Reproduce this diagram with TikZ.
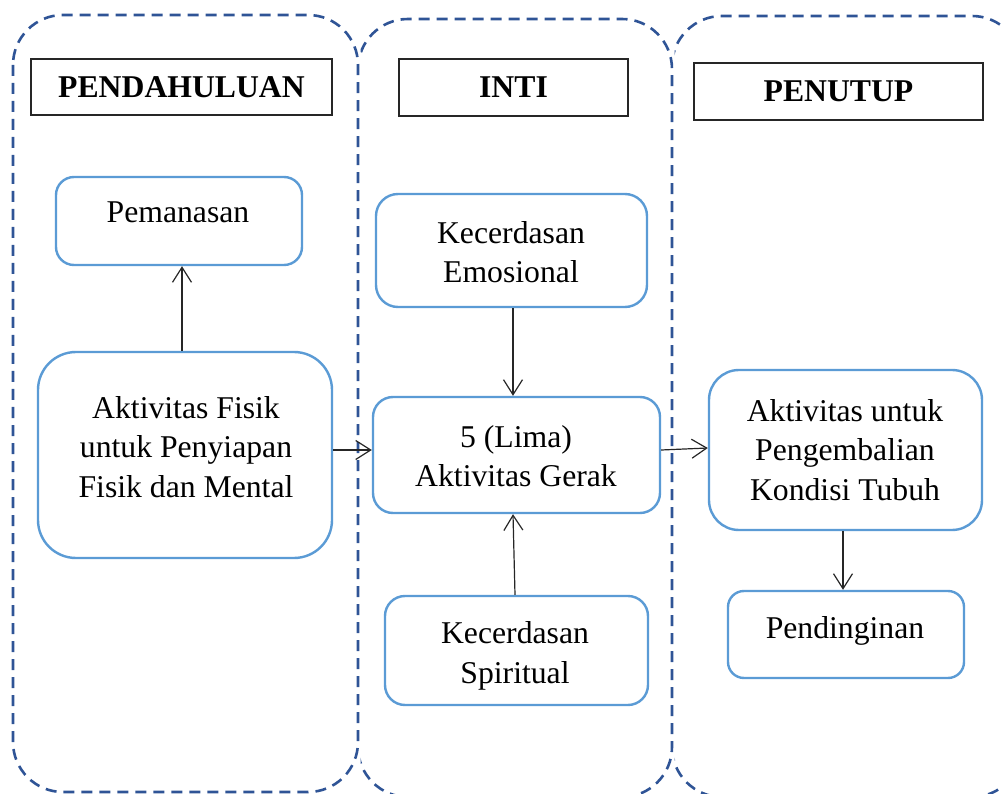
\documentclass[tikz,border=0pt]{standalone}
\usepackage{fontspec}
\setmainfont{Liberation Serif}
\usetikzlibrary{arrows.meta}
\definecolor{dashblue}{RGB}{47,84,150}
\definecolor{boxblue}{RGB}{91,155,213}
\begin{document}
\begin{tikzpicture}[x=1pt,y=-1pt,
  phase/.style={draw=dashblue, line width=2.6pt, dash pattern=on 11pt off 7pt, rounded corners=50pt},
  header/.style={draw=black!85, line width=1.3pt, inner sep=0pt, font=\fontsize{31.7}{39.5}\selectfont\bfseries},
  bluebox/.style={draw=boxblue, line width=2.4pt, inner sep=0pt},
  txt/.style={font=\fontsize{31.7}{39.5}\selectfont, align=center, inner sep=0pt},
  conn/.style={draw=black!85, line width=1.2pt, -{Straight Barb[length=15pt,width=19pt,line width=1.2pt]}}]
\useasboundingbox (0,0) rectangle (1002,794);
% phases
\draw[phase] (13,15) rectangle (358,792);
\begin{scope}
  \clip (360.5,0) rectangle (700,810);
  \draw[phase] (358,19) rectangle (672,797);
\end{scope}
\begin{scope}
  \clip (674.5,0) rectangle (1040,810);
  \draw[phase] (672,16) rectangle (1022,797);
\end{scope}
% headers
\node[header, minimum width=301pt, minimum height=56pt] (h1) at (181.5,87) {PENDAHULUAN};
\node[header, minimum width=229pt, minimum height=57pt] (h2) at (513.5,87.5) {INTI};
\node[header, minimum width=289pt, minimum height=57pt] (h3) at (838.5,91.5) {PENUTUP};
% boxes
\node[bluebox, rounded corners=18pt, minimum width=246pt, minimum height=88pt] (pem) at (179,221) {};
\node[bluebox, rounded corners=38pt, minimum width=294pt, minimum height=206pt] (fis) at (185,455) {};
\node[bluebox, rounded corners=22pt, minimum width=271pt, minimum height=113pt] (emo) at (511.5,250.5) {};
\node[bluebox, rounded corners=20pt, minimum width=287pt, minimum height=116pt] (ger) at (516.5,455) {};
\node[bluebox, rounded corners=20pt, minimum width=263pt, minimum height=109pt] (spi) at (516.5,650.5) {};
\node[bluebox, rounded corners=30pt, minimum width=273pt, minimum height=160pt] (peng) at (845.5,450) {};
\node[bluebox, rounded corners=16pt, minimum width=236pt, minimum height=87pt] (pend) at (846,634.5) {};
% texts
\node[txt] (pemT) at (178,212) {Pemanasan};
\node[txt] (fisT) at (186,447) {Aktivitas Fisik\\untuk Penyiapan\\Fisik dan Mental};
\node[txt] (emoT) at (511,252) {Kecerdasan\\Emosional};
\node[txt] (gerT) at (516,456) {5 (Lima)\\Aktivitas Gerak};
\node[txt] (spiT) at (515,656) {Kecerdasan\\Spiritual};
\node[txt] (pengT) at (845,450) {Aktivitas untuk\\Pengembalian\\Kondisi Tubuh};
\node[txt] (pendT) at (845,631) {Pendinginan};
% connectors
\draw[conn] ([xshift=-3pt]fis.north) -- ([xshift=3pt]pem.south);
\draw[conn] ([xshift=1.5pt]emo.south) -- ([xshift=-3.5pt]ger.north);
\draw[conn] ([xshift=-1.5pt]spi.north) -- ([xshift=-3.5pt]ger.south);
\draw[conn] ([yshift=5pt]fis.east) -- ([yshift=5pt]ger.west);
\draw[conn] ([yshift=5pt]ger.east) -- ([yshift=2pt]peng.west);
\draw[conn] ([xshift=-2.5pt]peng.south) -- ([xshift=-3pt]pend.north);
\end{tikzpicture}
\end{document}
